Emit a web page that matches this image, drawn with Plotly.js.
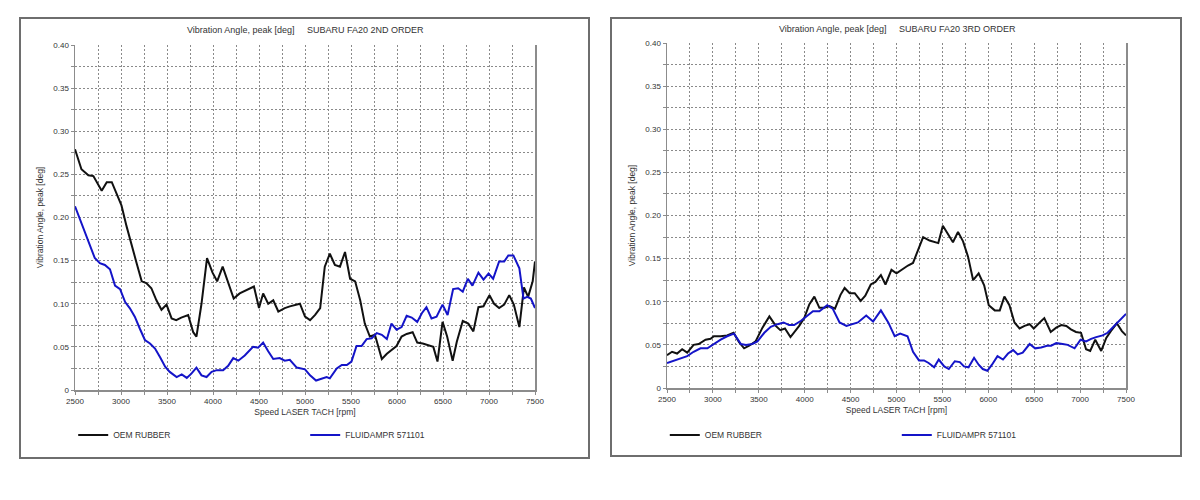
<!DOCTYPE html>
<html>
<head>
<meta charset="utf-8">
<script src="https://cdn.plot.ly/plotly-3.0.1.min.js"></script>
<style>
  html, body { margin: 0; padding: 0; background: #fff; overflow: hidden; width: 1200px; height: 500px; }
  #chart { width: 1200px; height: 500px; overflow: hidden; }
</style>
</head>
<body>
<div id="chart"></div>
<script>
// 2nd order, OEM rubber damper
const rpm2ndOem = [2500, 2570, 2645, 2700, 2790, 2845, 2900, 2950, 3005, 3060, 3115, 3170, 3225, 3275, 3330, 3385, 3440, 3495, 3550, 3600, 3655, 3730, 3785, 3820, 3875, 3935, 3995, 4045, 4105, 4165, 4225, 4290, 4365, 4445, 4500, 4545, 4600, 4655, 4710, 4780, 4835, 4945, 5000, 5055, 5110, 5165, 5215, 5270, 5325, 5380, 5435, 5490, 5545, 5600, 5650, 5705, 5760, 5835, 5890, 5940, 5995, 6050, 6105, 6170, 6220, 6280, 6340, 6395, 6440, 6495, 6545, 6605, 6650, 6715, 6775, 6830, 6885, 6940, 7005, 7055, 7110, 7165, 7220, 7270, 7330, 7380, 7425, 7475, 7500];
const oem2nd = [0.279, 0.256, 0.249, 0.248, 0.231, 0.241, 0.241, 0.227, 0.214, 0.190, 0.167, 0.147, 0.126, 0.124, 0.118, 0.104, 0.093, 0.099, 0.083, 0.081, 0.084, 0.087, 0.067, 0.062, 0.100, 0.153, 0.136, 0.126, 0.143, 0.124, 0.106, 0.112, 0.116, 0.120, 0.095, 0.112, 0.100, 0.104, 0.091, 0.095, 0.097, 0.100, 0.085, 0.081, 0.087, 0.095, 0.143, 0.158, 0.145, 0.143, 0.160, 0.129, 0.126, 0.104, 0.077, 0.062, 0.064, 0.036, 0.042, 0.046, 0.051, 0.062, 0.065, 0.067, 0.055, 0.054, 0.052, 0.050, 0.033, 0.079, 0.062, 0.034, 0.056, 0.080, 0.077, 0.068, 0.096, 0.097, 0.110, 0.100, 0.095, 0.099, 0.110, 0.099, 0.073, 0.119, 0.108, 0.126, 0.149];

// 2nd order, Fluidampr
const rpm2ndFluid = [2500, 2555, 2610, 2665, 2715, 2770, 2825, 2880, 2935, 2990, 3045, 3095, 3150, 3205, 3260, 3315, 3370, 3425, 3480, 3530, 3605, 3660, 3715, 3765, 3820, 3875, 3930, 3985, 4040, 4110, 4165, 4220, 4275, 4345, 4435, 4490, 4545, 4600, 4655, 4725, 4780, 4835, 4910, 5000, 5055, 5120, 5180, 5235, 5270, 5345, 5400, 5455, 5505, 5560, 5615, 5670, 5725, 5780, 5835, 5890, 5940, 5995, 6050, 6105, 6160, 6220, 6270, 6320, 6375, 6430, 6495, 6550, 6610, 6665, 6715, 6770, 6820, 6885, 6940, 6995, 7045, 7110, 7165, 7210, 7265, 7330, 7375, 7415, 7455, 7500];
const fluid2nd = [0.213, 0.198, 0.182, 0.169, 0.153, 0.147, 0.145, 0.140, 0.121, 0.117, 0.102, 0.095, 0.085, 0.071, 0.058, 0.054, 0.048, 0.038, 0.027, 0.021, 0.015, 0.018, 0.014, 0.019, 0.026, 0.017, 0.015, 0.021, 0.023, 0.023, 0.028, 0.037, 0.034, 0.040, 0.050, 0.049, 0.055, 0.045, 0.036, 0.037, 0.034, 0.035, 0.026, 0.024, 0.017, 0.011, 0.0135, 0.015, 0.0135, 0.025, 0.029, 0.029, 0.033, 0.051, 0.051, 0.059, 0.060, 0.066, 0.064, 0.059, 0.077, 0.070, 0.073, 0.086, 0.084, 0.079, 0.089, 0.096, 0.083, 0.085, 0.099, 0.087, 0.117, 0.118, 0.114, 0.129, 0.121, 0.136, 0.128, 0.135, 0.129, 0.149, 0.149, 0.156, 0.156, 0.141, 0.106, 0.108, 0.106, 0.095];

// 3rd order, OEM rubber damper
const rpm3rdOem = [2500, 2555, 2610, 2665, 2720, 2790, 2845, 2920, 2975, 3010, 3085, 3155, 3225, 3285, 3340, 3395, 3465, 3540, 3615, 3685, 3735, 3785, 3845, 3885, 3940, 3995, 4050, 4105, 4160, 4215, 4270, 4330, 4390, 4435, 4490, 4545, 4610, 4660, 4720, 4770, 4830, 4880, 4945, 5000, 5055, 5125, 5180, 5235, 5290, 5360, 5455, 5505, 5560, 5615, 5670, 5725, 5780, 5835, 5895, 5955, 6005, 6070, 6125, 6175, 6230, 6285, 6340, 6395, 6450, 6495, 6560, 6610, 6680, 6740, 6795, 6850, 6900, 6955, 7010, 7065, 7110, 7165, 7230, 7285, 7335, 7400, 7455, 7500];
const oem3rd = [0.038, 0.042, 0.040, 0.045, 0.041, 0.050, 0.051, 0.056, 0.057, 0.060, 0.060, 0.061, 0.064, 0.053, 0.046, 0.049, 0.054, 0.070, 0.083, 0.072, 0.067, 0.069, 0.059, 0.064, 0.072, 0.081, 0.097, 0.106, 0.093, 0.093, 0.095, 0.092, 0.108, 0.116, 0.110, 0.110, 0.101, 0.107, 0.120, 0.123, 0.131, 0.120, 0.137, 0.133, 0.137, 0.142, 0.145, 0.161, 0.175, 0.171, 0.168, 0.188, 0.178, 0.169, 0.181, 0.170, 0.152, 0.125, 0.133, 0.119, 0.096, 0.090, 0.090, 0.106, 0.096, 0.076, 0.069, 0.072, 0.074, 0.069, 0.076, 0.081, 0.065, 0.070, 0.073, 0.072, 0.068, 0.065, 0.064, 0.045, 0.043, 0.056, 0.043, 0.058, 0.066, 0.075, 0.066, 0.061];

// 3rd order, Fluidampr
const rpm3rdFluid = [2500, 2575, 2645, 2720, 2790, 2865, 2940, 3010, 3085, 3155, 3230, 3305, 3360, 3430, 3485, 3560, 3630, 3705, 3770, 3830, 3885, 3960, 4035, 4090, 4160, 4245, 4305, 4380, 4455, 4510, 4580, 4670, 4745, 4830, 4910, 4980, 5040, 5120, 5180, 5245, 5300, 5350, 5410, 5460, 5520, 5570, 5635, 5690, 5735, 5785, 5845, 5895, 5940, 5990, 6040, 6100, 6160, 6215, 6270, 6320, 6375, 6450, 6510, 6575, 6640, 6685, 6740, 6810, 6865, 6940, 7005, 7065, 7120, 7175, 7245, 7300, 7355, 7410, 7465, 7500];
const fluid3rd = [0.029, 0.032, 0.034, 0.037, 0.042, 0.046, 0.046, 0.051, 0.056, 0.060, 0.063, 0.051, 0.050, 0.051, 0.054, 0.064, 0.071, 0.074, 0.076, 0.073, 0.073, 0.078, 0.085, 0.089, 0.089, 0.096, 0.092, 0.076, 0.072, 0.074, 0.076, 0.084, 0.077, 0.090, 0.076, 0.060, 0.063, 0.060, 0.042, 0.032, 0.032, 0.029, 0.024, 0.033, 0.025, 0.022, 0.031, 0.030, 0.025, 0.024, 0.035, 0.027, 0.022, 0.020, 0.027, 0.037, 0.033, 0.040, 0.044, 0.039, 0.041, 0.051, 0.046, 0.047, 0.049, 0.049, 0.052, 0.051, 0.050, 0.046, 0.056, 0.054, 0.057, 0.059, 0.061, 0.064, 0.070, 0.076, 0.081, 0.086];

const seriesNames = ['OEM RUBBER', 'FLUIDAMPR 571101'];
const panelTitles = ['SUBARU FA20 2ND ORDER', 'SUBARU FA20 3RD ORDER'];
const xTickVals = [2500, 3000, 3500, 4000, 4500, 5000, 5500, 6000, 6500, 7000, 7500];
const xTickText = ['2500', '3000', '3500', '4000', '4500', '5000', '5500', '6000', '6500', '7000', '7500'];
const yTickVals = [0, 0.05, 0.10, 0.15, 0.20, 0.25, 0.30, 0.35, 0.40];
const yTickText = ['0', '0.05', '0.10', '0.15', '0.20', '0.25', '0.30', '0.35', '0.40'];

(function () {
    'use strict';

    const COLORS = {
        oem: '#111111',
        fluid: '#1414c8',
        text: '#333333',
        grid: '#8a8a8a',
        axis: '#8c8c8c',
        frame: '#6e6e6e'
    };
    const FONT = '"Liberation Sans", Arial, sans-serif';

    function xAxis(domain, anchor) {
        return {
            domain: domain,
            anchor: anchor,
            range: [2500, 7500],
            tickmode: 'array',
            tickvals: xTickVals,
            ticktext: xTickText,
            ticks: 'outside',
            ticklen: 3,
            tickcolor: COLORS.axis,
            tickfont: { size: 8, color: COLORS.text },
            showgrid: true,
            gridcolor: COLORS.grid,
            griddash: '2px,2px',
            gridwidth: 1,
            minor: {
                dtick: 250, tick0: 2500, showgrid: true,
                gridcolor: COLORS.grid, griddash: '2px,2px',
                ticks: 'outside', ticklen: 3, tickcolor: COLORS.axis
            },
            showline: true,
            linecolor: COLORS.axis,
            linewidth: 1.5,
            zeroline: false,
            title: { text: 'Speed LASER TACH [rpm]', font: { size: 8.5, color: COLORS.text }, standoff: 4 }
        };
    }

    function yAxis(domain, anchor) {
        return {
            domain: domain,
            anchor: anchor,
            range: [0, 0.4],
            tickmode: 'array',
            tickvals: yTickVals,
            ticktext: yTickText,
            ticks: 'outside',
            ticklen: 3,
            tickcolor: COLORS.axis,
            tickfont: { size: 8, color: COLORS.text },
            showgrid: true,
            gridcolor: COLORS.grid,
            griddash: '2px,2px',
            minor: {
                dtick: 0.025, tick0: 0, showgrid: true,
                gridcolor: COLORS.grid, griddash: '2px,2px',
                ticks: 'outside', ticklen: 3, tickcolor: COLORS.axis
            },
            showline: true,
            mirror: true,
            linecolor: COLORS.axis,
            linewidth: 1.5,
            zeroline: false,
            title: { text: 'Vibration Angle, peak [deg]', font: { size: 8.5, color: COLORS.text }, standoff: 8 }
        };
    }

    function line(x, y, name, color, xa, ya, legend) {
        return {
            x: x, y: y, name: name,
            type: 'scatter', mode: 'lines',
            line: { color: color, width: 2 },
            xaxis: xa, yaxis: ya,
            legend: legend
        };
    }

    const traces = [
        line(rpm2ndOem, oem2nd, seriesNames[0], COLORS.oem, 'x', 'y', 'legend'),
        line(rpm2ndFluid, fluid2nd, seriesNames[1], COLORS.fluid, 'x', 'y', 'legend'),
        line(rpm3rdOem, oem3rd, seriesNames[0], COLORS.oem, 'x2', 'y2', 'legend2'),
        line(rpm3rdFluid, fluid3rd, seriesNames[1], COLORS.fluid, 'x2', 'y2', 'legend2')
    ];

    // entrywidth counts the text part only; the 30px symbol comes on top
    function legendAt(x) {
        return {
            orientation: 'h',
            x: x, y: 0.13, xanchor: 'left', yanchor: 'middle',
            entrywidth: 187, entrywidthmode: 'pixels',
            itemwidth: 30,
            font: { size: 8.5, color: COLORS.text },
            bgcolor: 'rgba(0,0,0,0)'
        };
    }

    function frame(x0, x1, y0, y1) {
        return {
            type: 'rect', xref: 'paper', yref: 'paper',
            x0: x0, x1: x1, y0: y0, y1: y1,
            line: { color: COLORS.frame, width: 2 },
            layer: 'below'
        };
    }

    function titleAt(x, y, order) {
        return {
            xref: 'paper', yref: 'paper', x: x, y: y,
            xanchor: 'center', yanchor: 'middle', showarrow: false,
            text: 'Vibration Angle, peak [deg]&nbsp;&nbsp;&nbsp;&nbsp;&nbsp;' + panelTitles[order],
            font: { size: 9, color: COLORS.text }
        };
    }

    const layout = {
        width: 1200,
        height: 500,
        margin: { t: 0, r: 0, b: 0, l: 0, autoexpand: false },
        paper_bgcolor: '#ffffff',
        plot_bgcolor: '#ffffff',
        font: { family: FONT, color: COLORS.text, size: 8 },
        xaxis: xAxis([75 / 1200, 535 / 1200], 'y'),
        yaxis: yAxis([1 - 390 / 500, 1 - 45 / 500], 'x'),
        xaxis2: xAxis([667 / 1200, 1126 / 1200], 'y2'),
        yaxis2: yAxis([1 - 388 / 500, 1 - 43 / 500], 'x2'),
        legend: legendAt(0.061),
        legend2: legendAt(0.554),
        shapes: [
            frame(20 / 1200, 589 / 1200, 1 - 458 / 500, 1 - 18 / 500),
            frame(611 / 1200, 1181 / 1200, 1 - 456 / 500, 1 - 18 / 500)
        ],
        annotations: [
            titleAt(305 / 1200, 1 - 30 / 500, 0),
            titleAt(897 / 1200, 1 - 29 / 500, 1)
        ]
    };

    Plotly.newPlot('chart', traces, layout, { displayModeBar: false, staticPlot: true });
})();
</script>
</body>
</html>
